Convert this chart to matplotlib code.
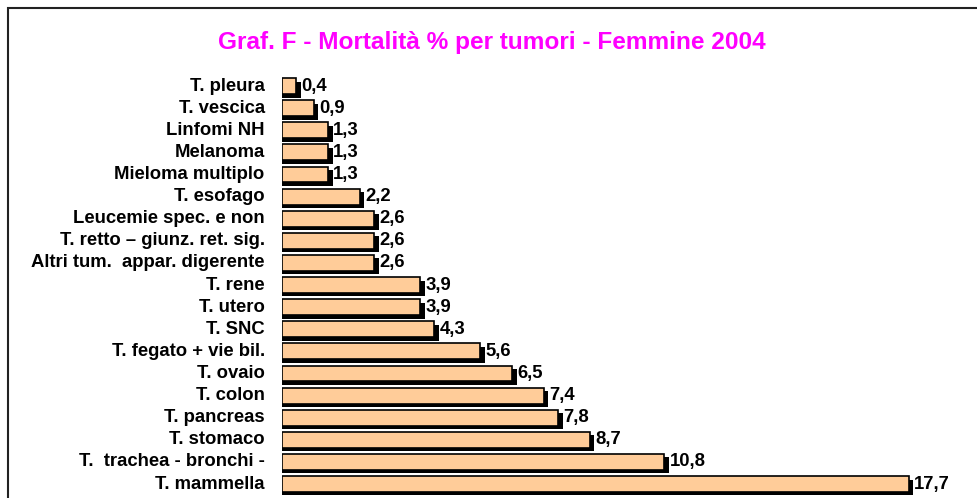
import matplotlib
matplotlib.use("Agg")
import matplotlib.pyplot as plt
from matplotlib.patches import Rectangle

plt.rcParams['font.family'] = ['Liberation Sans', 'DejaVu Sans']

# data, from bottom (largest) to top
categories = ["T. mammella", "T.  trachea - bronchi -", "T. stomaco", "T. pancreas",
              "T. colon", "T. ovaio", "T. fegato + vie bil.", "T. SNC", "T. utero",
              "T. rene", "Altri tum.  appar. digerente", "T. retto \u2013 giunz. ret. sig.",
              "Leucemie spec. e non", "T. esofago", "Mieloma multiplo", "Melanoma",
              "Linfomi NH", "T. vescica", "T. pleura"]
values = [17.7, 10.8, 8.7, 7.8, 7.4, 6.5, 5.6, 4.3, 3.9, 3.9, 2.6, 2.6, 2.6, 2.2,
          1.3, 1.3, 1.3, 0.9, 0.4]

W, H = 977, 498
fig = plt.figure(figsize=(W / 100, H / 100), dpi=100)

# axes placed so bars line up with the original layout
ax = fig.add_axes([282 / W, 0, (W - 282) / W, (H - 75) / H])
ax.set_xlim(0, (W - 282) / 35.4)
ax.set_ylim(-0.633, 18.5)

ypos = list(range(len(values)))
bar_h = 0.72
dx = 4.5 / 35.4   # shadow offset in data units
dy = 3.5 / 22.1

# shadow behind
ax.barh([y - dy for y in ypos], [v + dx for v in values], height=bar_h,
        color='black', zorder=1)
ax.barh(ypos, values, height=bar_h, color='#FFCC99', edgecolor='black',
        linewidth=1.2, zorder=2)

for y, v in zip(ypos, values):
    ax.annotate(f"{v:.1f}".replace('.', ','), (v + dx, y), xytext=(0.5, 0),
                textcoords='offset points', va='center', ha='left',
                fontsize=13.3, fontweight='bold')
    ax.annotate(categories[y], (0, y), xytext=(-12.5, 0), textcoords='offset points',
                va='center', ha='right', fontsize=13.3, fontweight='bold',
                annotation_clip=False)

ax.axis('off')

fig.text(492 / W, 1 - 43 / H, "Graf. F - Mortalit\u00e0 % per tumori - Femmine 2004",
         color='#FF00FF', fontsize=17.6, fontweight='bold', ha='center', va='center')

# outer frame
fig.patches.append(Rectangle((8 / W, -0.1), 1.2, 1 - 8 / H + 0.1,
                             transform=fig.transFigure, fill=False,
                             edgecolor='#222222', linewidth=1.5))

fig.savefig("out.png", dpi=100)
